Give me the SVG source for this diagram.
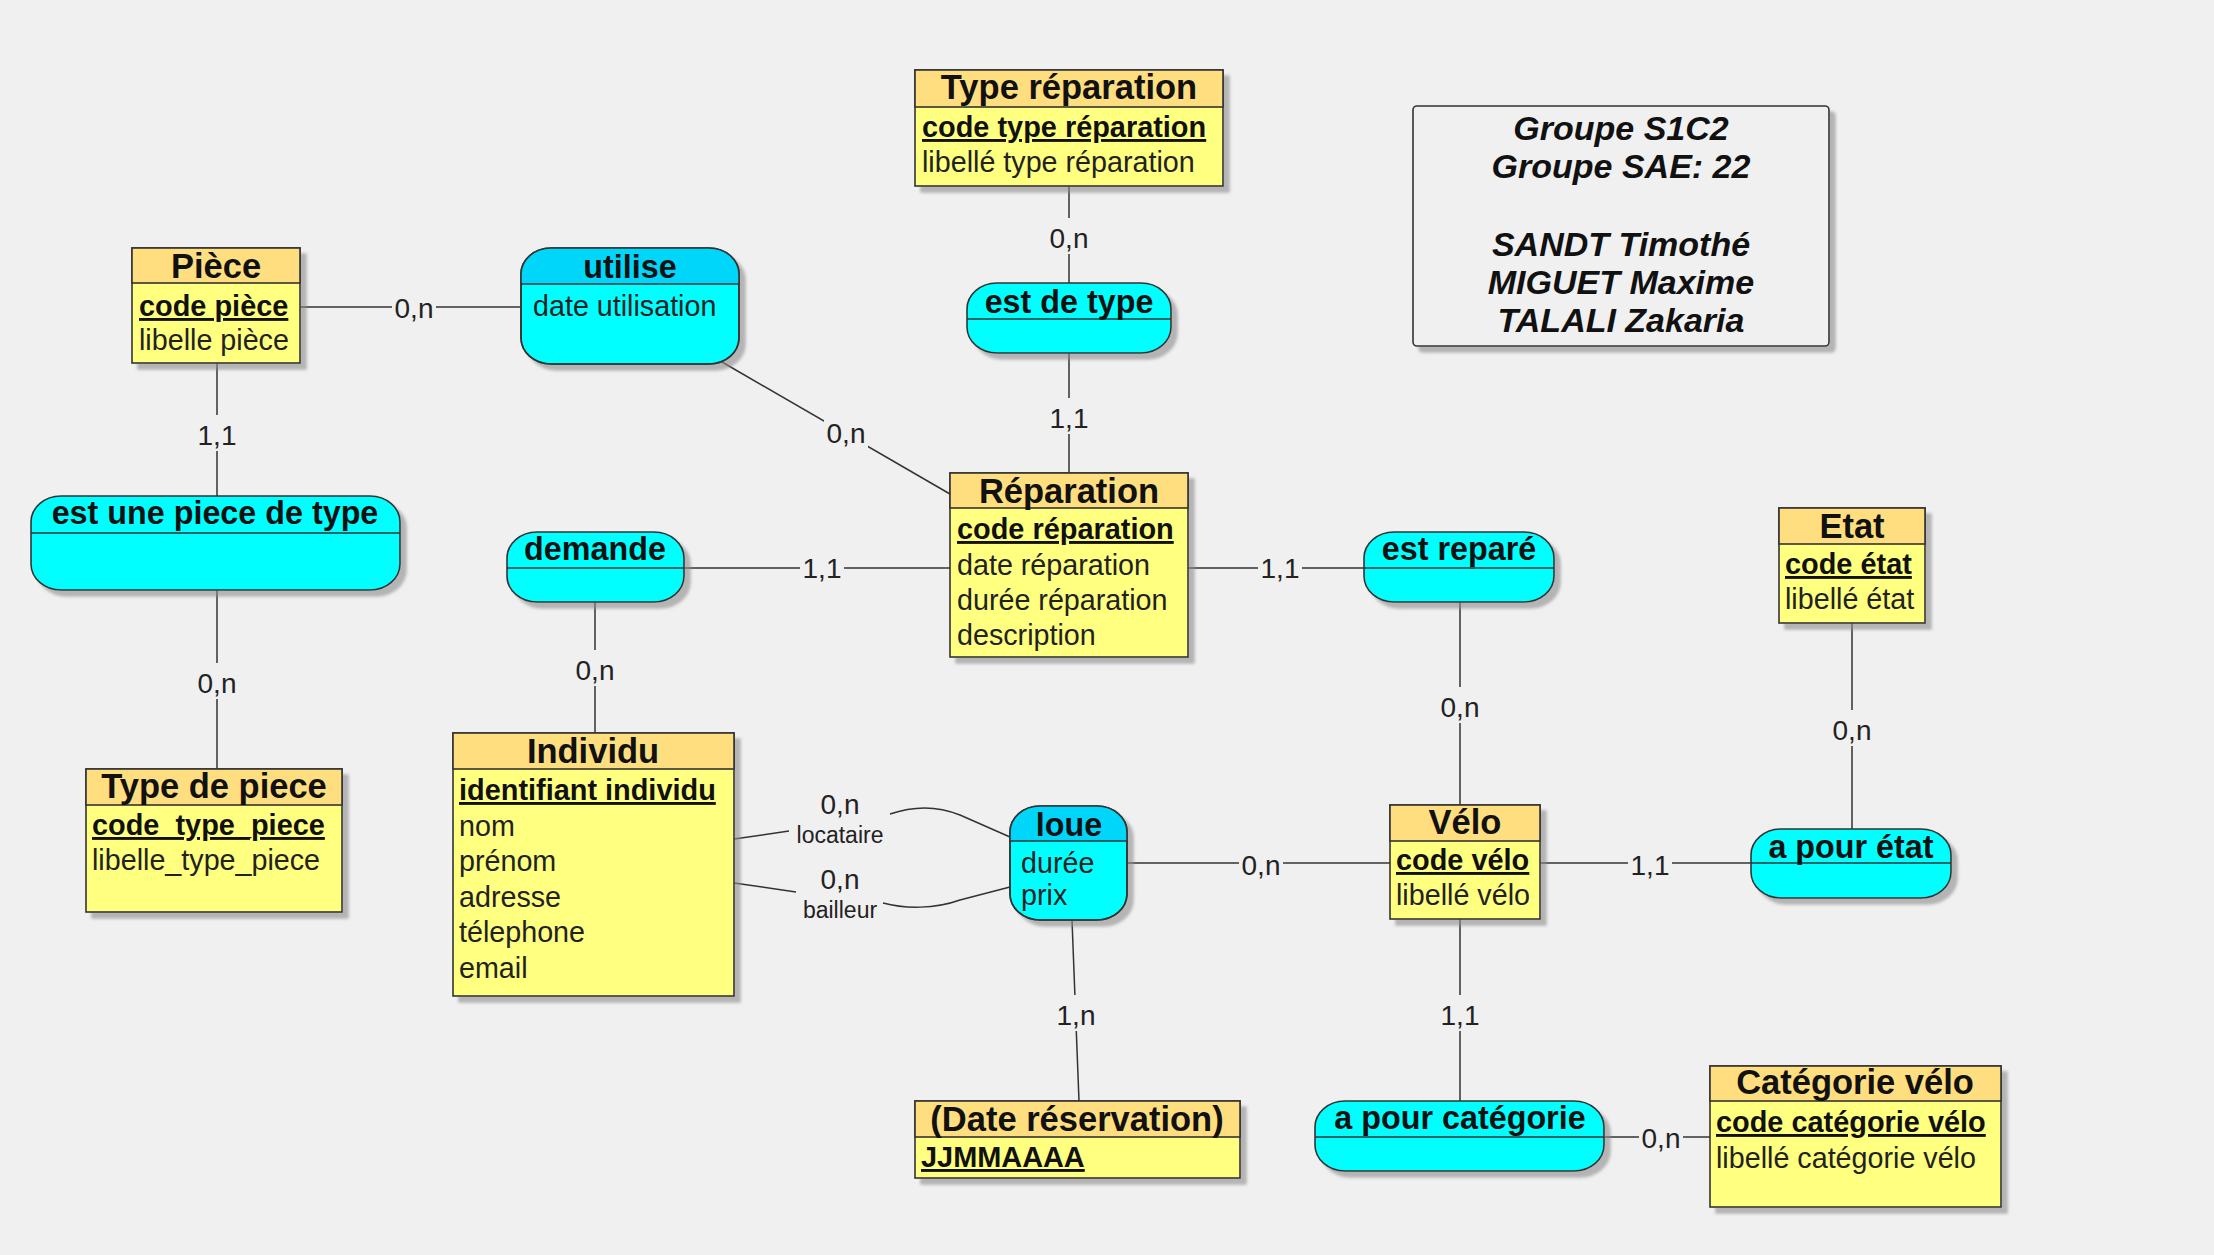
<svg xmlns="http://www.w3.org/2000/svg" width="2214" height="1255" viewBox="0 0 2214 1255">
<defs>
<filter id="sh" x="-10%" y="-10%" width="130%" height="130%">
<feDropShadow dx="6" dy="6" stdDeviation="1.5" flood-color="#8c8c8c" flood-opacity="0.6"/>
</filter>
<style>
.ebody{fill:#FFFF80;stroke:#333;stroke-width:1.6}
.ehead{fill:#FFDE80;stroke:#333;stroke-width:1.6}
.abody{fill:#00FFFF;stroke:#333;stroke-width:1.6}
.ahead{fill:#00D6FA;stroke:none}
.sep{stroke:#333;stroke-width:1.6}
.title{font-family:"Liberation Sans",Arial,sans-serif;font-weight:bold;font-size:34.5px;fill:#111;text-anchor:middle}
.atitle{font-family:"Liberation Sans",Arial,sans-serif;font-weight:bold;font-size:32.3px;fill:#111;text-anchor:middle}
.attr{font-family:"Liberation Sans",Arial,sans-serif;font-size:28.7px;fill:#222}
.key{font-family:"Liberation Sans",Arial,sans-serif;font-size:28.9px;font-weight:bold;fill:#111;text-decoration:underline}
.conn{stroke:#333;stroke-width:1.5;fill:none}
.lbl{font-family:"Liberation Sans",Arial,sans-serif;font-size:28px;fill:#222;text-anchor:middle}
.role{font-family:"Liberation Sans",Arial,sans-serif;font-size:23px;fill:#222;text-anchor:middle}
.lbg{fill:#F0F0F0}
.note{font-family:"Liberation Sans",Arial,sans-serif;font-weight:bold;font-style:italic;font-size:34px;fill:#111;text-anchor:middle}
</style>
</defs>
<rect x="0" y="0" width="2214" height="1255" fill="#F0F0F0"/>

<g id="connectors">
<line class="conn" x1="300" y1="307" x2="521" y2="307"/>
<line class="conn" x1="217" y1="363" x2="217" y2="496"/>
<line class="conn" x1="217" y1="590" x2="217" y2="769"/>
<line class="conn" x1="722" y1="362" x2="950" y2="494"/>
<line class="conn" x1="1069" y1="186" x2="1069" y2="283"/>
<line class="conn" x1="1069" y1="353" x2="1069" y2="473"/>
<line class="conn" x1="684" y1="568" x2="950" y2="568"/>
<line class="conn" x1="1188" y1="568" x2="1364" y2="568"/>
<line class="conn" x1="595" y1="602" x2="595" y2="733"/>
<line class="conn" x1="1460" y1="602" x2="1460" y2="805"/>
<line class="conn" x1="1852" y1="623" x2="1852" y2="829"/>
<line class="conn" x1="1540" y1="863" x2="1751" y2="863"/>
<line class="conn" x1="1127" y1="863" x2="1390" y2="863"/>
<line class="conn" x1="1072" y1="920" x2="1079" y2="1101"/>
<line class="conn" x1="1460" y1="919" x2="1460" y2="1101"/>
<line class="conn" x1="1604" y1="1137" x2="1710" y2="1137"/>
<path class="conn" d="M734,839 L789,831 M890,814 C913,806 938,806 960,815 L1010,837"/>
<path class="conn" d="M734,883 L796,892 M883,903 C905,909 935,909 960,900 L1010,887"/>

<rect class="lbg" x="392" y="290" width="44" height="34"/><text class="lbl" x="414" y="318">0,n</text>
<rect class="lbg" x="195" y="415" width="44" height="36"/><text class="lbl" x="217" y="445">1,1</text>
<rect class="lbg" x="195" y="663" width="44" height="36"/><text class="lbl" x="217" y="693">0,n</text>
<rect class="lbg" x="824" y="414" width="44" height="36"/><text class="lbl" x="846" y="443">0,n</text>
<rect class="lbg" x="1047" y="218" width="44" height="36"/><text class="lbl" x="1069" y="248">0,n</text>
<rect class="lbg" x="1047" y="398" width="44" height="36"/><text class="lbl" x="1069" y="428">1,1</text>
<rect class="lbg" x="800" y="550" width="44" height="34"/><text class="lbl" x="822" y="578">1,1</text>
<rect class="lbg" x="1258" y="550" width="44" height="34"/><text class="lbl" x="1280" y="578">1,1</text>
<rect class="lbg" x="573" y="650" width="44" height="36"/><text class="lbl" x="595" y="680">0,n</text>
<rect class="lbg" x="1438" y="687" width="44" height="36"/><text class="lbl" x="1460" y="717">0,n</text>
<rect class="lbg" x="1830" y="710" width="44" height="36"/><text class="lbl" x="1852" y="740">0,n</text>
<rect class="lbg" x="1628" y="847" width="44" height="34"/><text class="lbl" x="1650" y="875">1,1</text>
<rect class="lbg" x="1239" y="847" width="44" height="34"/><text class="lbl" x="1261" y="875">0,n</text>
<rect class="lbg" x="1054" y="995" width="44" height="36"/><text class="lbl" x="1076" y="1025">1,n</text>
<rect class="lbg" x="1438" y="995" width="44" height="36"/><text class="lbl" x="1460" y="1025">1,1</text>
<rect class="lbg" x="1639" y="1120" width="44" height="34"/><text class="lbl" x="1661" y="1148">0,n</text>
<text class="lbl" x="840" y="814">0,n</text><text class="role" x="840" y="843">locataire</text>
<text class="lbl" x="840" y="889">0,n</text><text class="role" x="840" y="918">bailleur</text>
</g>

<g id="piece">
<rect class="ebody" x="132" y="248" width="168" height="115" filter="url(#sh)"/>
<rect class="ehead" x="132" y="248" width="168" height="35"/>
<text class="title" x="216" y="278">Pièce</text>
<text class="key" x="139" y="316">code pièce</text>
<text class="attr" x="139" y="350">libelle pièce</text>
</g>

<g id="type_reparation">
<rect class="ebody" x="915" y="70" width="308" height="116" filter="url(#sh)"/>
<rect class="ehead" x="915" y="70" width="308" height="37"/>
<text class="title" x="1069" y="99">Type réparation</text>
<text class="key" x="922" y="137">code type réparation</text>
<text class="attr" x="922" y="172">libellé type réparation</text>
</g>

<g id="reparation">
<rect class="ebody" x="950" y="473" width="238" height="184" filter="url(#sh)"/>
<rect class="ehead" x="950" y="473" width="238" height="35"/>
<text class="title" x="1069" y="503">Réparation</text>
<text class="key" x="957" y="539">code réparation</text>
<text class="attr" x="957" y="575">date réparation</text>
<text class="attr" x="957" y="610">durée réparation</text>
<text class="attr" x="957" y="645">description</text>
</g>

<g id="etat">
<rect class="ebody" x="1779" y="508" width="146" height="115" filter="url(#sh)"/>
<rect class="ehead" x="1779" y="508" width="146" height="36"/>
<text class="title" x="1852" y="538">Etat</text>
<text class="key" x="1785" y="574">code état</text>
<text class="attr" x="1785" y="609">libellé état</text>
</g>

<g id="velo">
<rect class="ebody" x="1390" y="805" width="150" height="114" filter="url(#sh)"/>
<rect class="ehead" x="1390" y="805" width="150" height="36"/>
<text class="title" x="1465" y="834">Vélo</text>
<text class="key" x="1396" y="870">code vélo</text>
<text class="attr" x="1396" y="905">libellé vélo</text>
</g>

<g id="individu">
<rect class="ebody" x="453" y="733" width="281" height="263" filter="url(#sh)"/>
<rect class="ehead" x="453" y="733" width="281" height="36"/>
<text class="title" x="593" y="763">Individu</text>
<text class="key" x="459" y="800">identifiant individu</text>
<text class="attr" x="459" y="836">nom</text>
<text class="attr" x="459" y="871">prénom</text>
<text class="attr" x="459" y="907">adresse</text>
<text class="attr" x="459" y="942">télephone</text>
<text class="attr" x="459" y="978">email</text>
</g>

<g id="type_de_piece">
<rect class="ebody" x="86" y="769" width="256" height="143" filter="url(#sh)"/>
<rect class="ehead" x="86" y="769" width="256" height="36"/>
<text class="title" x="214" y="798">Type de piece</text>
<text class="key" x="92" y="835">code_type_piece</text>
<text class="attr" x="92" y="870">libelle_type_piece</text>
</g>

<g id="date_reservation">
<rect class="ebody" x="915" y="1101" width="325" height="77" filter="url(#sh)"/>
<rect class="ehead" x="915" y="1101" width="325" height="36"/>
<text class="title" x="1077" y="1131">(Date réservation)</text>
<text class="key" x="921" y="1167">JJMMAAAA</text>
</g>

<g id="categorie_velo">
<rect class="ebody" x="1710" y="1066" width="291" height="141" filter="url(#sh)"/>
<rect class="ehead" x="1710" y="1066" width="291" height="35"/>
<text class="title" x="1855" y="1094">Catégorie vélo</text>
<text class="key" x="1716" y="1132">code catégorie vélo</text>
<text class="attr" x="1716" y="1168">libellé catégorie vélo</text>
</g>

<g id="utilise">
<rect class="abody" x="521" y="248" width="218" height="116" rx="30" ry="26" filter="url(#sh)"/>
<path class="ahead" d="M521,284 V274 A30,26 0 0 1 551,248 H709 A30,26 0 0 1 739,274 V284 Z"/>
<rect x="521" y="248" width="218" height="116" rx="30" ry="26" fill="none" stroke="#333" stroke-width="1.6"/>
<line class="sep" x1="521" y1="284" x2="739" y2="284"/>
<text class="atitle" x="630" y="278">utilise</text>
<text class="attr" x="533" y="316">date utilisation</text>
</g>

<g id="est_de_type">
<rect class="abody" x="967" y="283" width="204" height="70" rx="30" ry="26" filter="url(#sh)"/>
<line class="sep" x1="967" y1="319" x2="1171" y2="319"/>
<text class="atitle" x="1069" y="313">est de type</text>
</g>

<g id="est_une_piece_de_type">
<rect class="abody" x="31" y="496" width="369" height="94" rx="30" ry="26" filter="url(#sh)"/>
<line class="sep" x1="31" y1="533" x2="400" y2="533"/>
<text class="atitle" x="215" y="524">est une piece de type</text>
</g>

<g id="demande">
<rect class="abody" x="507" y="532" width="177" height="70" rx="30" ry="26" filter="url(#sh)"/>
<line class="sep" x1="507" y1="568" x2="684" y2="568"/>
<text class="atitle" x="595" y="560">demande</text>
</g>

<g id="est_repare">
<rect class="abody" x="1364" y="532" width="190" height="70" rx="30" ry="26" filter="url(#sh)"/>
<line class="sep" x1="1364" y1="568" x2="1554" y2="568"/>
<text class="atitle" x="1459" y="560">est reparé</text>
</g>

<g id="a_pour_etat">
<rect class="abody" x="1751" y="829" width="200" height="69" rx="30" ry="26" filter="url(#sh)"/>
<line class="sep" x1="1751" y1="863" x2="1951" y2="863"/>
<text class="atitle" x="1851" y="858">a pour état</text>
</g>

<g id="loue">
<rect class="abody" x="1010" y="806" width="117" height="114" rx="30" ry="26" filter="url(#sh)"/>
<path class="ahead" d="M1010,841 V832 A30,26 0 0 1 1040,806 H1097 A30,26 0 0 1 1127,832 V841 Z"/>
<rect x="1010" y="806" width="117" height="114" rx="30" ry="26" fill="none" stroke="#333" stroke-width="1.6"/>
<line class="sep" x1="1010" y1="841" x2="1127" y2="841"/>
<text class="atitle" x="1069" y="836">loue</text>
<text class="attr" x="1021" y="873">durée</text>
<text class="attr" x="1021" y="905">prix</text>
</g>

<g id="a_pour_categorie">
<rect class="abody" x="1315" y="1101" width="289" height="70" rx="30" ry="26" filter="url(#sh)"/>
<line class="sep" x1="1315" y1="1137" x2="1604" y2="1137"/>
<text class="atitle" x="1460" y="1129">a pour catégorie</text>
</g>

<g id="groupe_note">
<rect x="1413" y="106" width="416" height="240" rx="4" fill="#F0F0F0" stroke="#333" stroke-width="1.6" filter="url(#sh)"/>
<text class="note" x="1621" y="140">Groupe S1C2</text>
<text class="note" x="1621" y="178">Groupe SAE: 22</text>
<text class="note" x="1621" y="256">SANDT Timothé</text>
<text class="note" x="1621" y="294">MIGUET Maxime</text>
<text class="note" x="1621" y="332">TALALI Zakaria</text>
</g>
</svg>
